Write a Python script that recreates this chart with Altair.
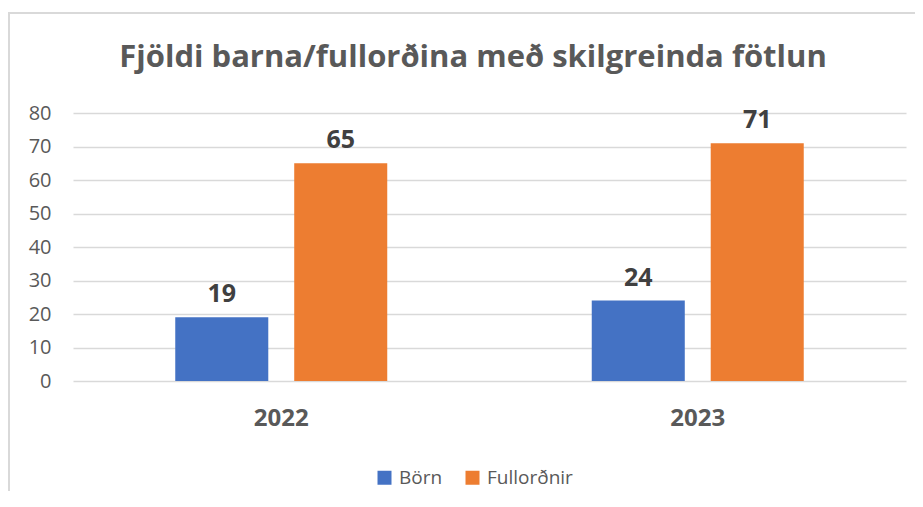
import altair as alt
import pandas as pd

title_text = "Fjöldi barna/fullorðina með skilgreinda fötlun"
years = ["2022", "2023"]
groups = ["Börn", "Fullorðnir"]
born = [19, 24]
fullordnir = [65, 71]
colors = ["#4472C4", "#ED7D31"]
y_ticks = [0, 10, 20, 30, 40, 50, 60, 70, 80]

rows = []
for i, yr in enumerate(years):
    rows.append({"year": yr, "group": groups[0], "value": born[i]})
    rows.append({"year": yr, "group": groups[1], "value": fullordnir[i]})
df = pd.DataFrame(rows)

FONT = "Open Sans"
GRAY = "#595959"

base = alt.Chart(df)

x_axis = alt.Axis(title=None, labelAngle=0, labelFontSize=24, labelFontWeight="bold",
                  labelColor=GRAY, labelFont=FONT, labelPadding=25,
                  domain=False, ticks=False)
y_axis = alt.Axis(title=None, values=y_ticks, labelFontSize=20, labelColor=GRAY,
                  labelFont=FONT, labelPadding=22, domain=False, ticks=False,
                  labelOverlap=False, gridColor="#d9d9d9", gridWidth=1.5)
x_scale = alt.Scale(paddingInner=0.491, paddingOuter=0.2455)
y_scale = alt.Scale(domain=[0, 80], nice=False)
xoff_scale = alt.Scale(paddingInner=0.218, paddingOuter=0)

bars = base.mark_bar().encode(
    x=alt.X("year:N", sort=years, scale=x_scale, axis=x_axis),
    xOffset=alt.XOffset("group:N", sort=groups, scale=xoff_scale),
    y=alt.Y("value:Q", scale=y_scale, axis=y_axis),
    color=alt.Color("group:N", sort=groups,
                    scale=alt.Scale(domain=groups, range=colors),
                    legend=alt.Legend(title=None, orient="none", legendX=302, legendY=355,
                                      direction="horizontal", labelFontSize=19, labelColor=GRAY,
                                      labelFont=FONT, symbolType="square", symbolSize=196,
                                      symbolStrokeWidth=0, columnPadding=20, labelOffset=5)),
)

labels = base.mark_text(baseline="bottom", dy=-10, fontSize=25, fontWeight="bold",
                        color="#404040", font=FONT).encode(
    x=alt.X("year:N", sort=years, scale=x_scale, axis=x_axis),
    xOffset=alt.XOffset("group:N", sort=groups, scale=xoff_scale),
    y=alt.Y("value:Q", scale=y_scale, axis=y_axis),
    text="value:Q",
)

one_row = alt.Data(values=[{"t": title_text}])
title_mark = alt.Chart(one_row).mark_text(fontSize=31, fontWeight="bold", color=GRAY, font=FONT,
                                          align="center", baseline="middle").encode(
    x=alt.value(400), y=alt.value(-55), text="t:N")

top_border = alt.Chart(one_row).mark_rule(color="#d9d9d9", strokeWidth=2, clip=False).encode(
    x=alt.value(-65), x2=alt.value(860), y=alt.value(-100))
left_border = alt.Chart(one_row).mark_rule(color="#d9d9d9", strokeWidth=2, clip=False).encode(
    x=alt.value(-64), y=alt.value(-100), y2=alt.value(400))

chart = alt.layer(bars, labels, title_mark, top_border, left_border).properties(
    width=833, height=268,
    autosize="none",
    padding={"left": 65, "top": 105, "right": 9, "bottom": 110},
).configure_view(stroke=None)

chart.save("out.html", embed_options={"renderer": "svg", "actions": False})
